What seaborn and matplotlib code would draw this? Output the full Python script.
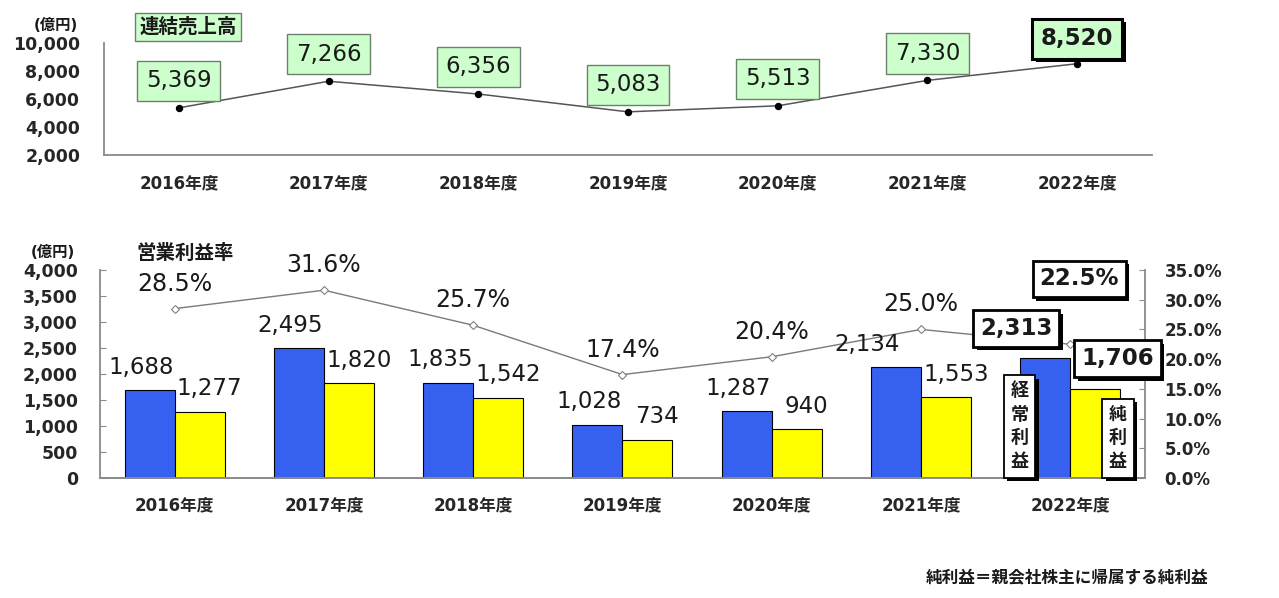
import numpy as np
import pandas as pd
import matplotlib
matplotlib.use('Agg')
import matplotlib.pyplot as plt
import matplotlib.patheffects as pe
import seaborn as sns

years = ['2016年度', '2017年度', '2018年度', '2019年度', '2020年度', '2021年度', '2022年度']
sales = [5369, 7266, 6356, 5083, 5513, 7330, 8520]
ordinary_profit = [1688, 2495, 1835, 1028, 1287, 2134, 2313]
net_profit = [1277, 1820, 1542, 734, 940, 1553, 1706]
op_margin = [28.5, 31.6, 25.7, 17.4, 20.4, 25.0, 22.5]
series_names = ['経常利益', '純利益']

BLUE = '#3560f0'
YELLOW = '#ffff00'
SPINE = '#8a8a8a'
GREEN = '#ccffcc'

sns.set_style('white')
plt.rcParams['font.family'] = ['DejaVu Sans', 'Noto Sans CJK JP']
plt.rcParams['text.color'] = '#1a1a1a'

shadow = [pe.SimplePatchShadow(offset=(2.5, -2.5), shadow_rgbFace='black', alpha=1.0), pe.Normal()]


def style_axis(ax, right=False):
    for s in ['top', 'right', 'left', 'bottom']:
        ax.spines[s].set_visible(False)
    ax.spines['bottom'].set_visible(True)
    ax.spines['right' if right else 'left'].set_visible(True)
    for s in ax.spines.values():
        s.set_color(SPINE)
        s.set_linewidth(1.3)
    ax.set_xlim(-0.5, len(years) - 0.5)
    ax.set_xticks(np.arange(-0.5, len(years), 1), minor=True)
    ax.tick_params(axis='x', which='major', length=0)
    ax.tick_params(axis='x', which='minor', direction='in', length=4, color=SPINE)
    ax.tick_params(axis='y', direction='in', length=4, color=SPINE)
    ax.set_xlabel('')
    ax.set_ylabel('')


fig = plt.figure(figsize=(12.79, 5.98), dpi=100)
ax_top = fig.add_axes([0.0813, 0.7408, 0.8194, 0.1873])
ax = fig.add_axes([0.0782, 0.2007, 0.8170, 0.3478])
ax2 = ax.twinx()

# ---- top: consolidated sales
sns.pointplot(x=years, y=sales, ax=ax_top, color='#555555', markers='o',
              linewidth=1.1, errorbar=None)
ln = ax_top.lines[0]
ln.set_markerfacecolor('black')
ln.set_markeredgecolor('black')
ln.set_markersize(4.5)
style_axis(ax_top)
ax_top.set_ylim(2000, 10000)
ax_top.set_yticks(range(2000, 10001, 2000))
ax_top.set_yticklabels([f'{v:,}' for v in range(2000, 10001, 2000)], fontsize=12.5, fontweight='bold')
ax_top.tick_params(axis='y', pad=17)
ax_top.set_xticks(range(len(years)))
ax_top.set_xticklabels(years, fontsize=12, fontweight='bold')
ax_top.tick_params(axis='x', which='major', pad=14)

for i, v in enumerate(sales):
    last = i == len(sales) - 1
    t = ax_top.annotate(f'{v:,}', xy=(i, v), xytext=(0, 19.5 if not last else 18),
                        textcoords='offset points', ha='center', va='center',
                        fontsize=16.5, fontweight='bold' if last else 'normal',
                        bbox=dict(boxstyle='square,pad=0.38', fc=GREEN,
                                  ec='black' if last else '#6d806d',
                                  lw=2.2 if last else 1.0))
    if last:
        t.get_bbox_patch().set_path_effects(shadow)

fig.text(56 / 1279, 1 - 25 / 598, '(億円)', ha='center', va='center', fontsize=11, fontweight='bold')
fig.text(188 / 1279, 1 - 27 / 598, '連結売上高', ha='center', va='center', fontsize=14,
         fontweight='bold', bbox=dict(boxstyle='square,pad=0.2', fc=GREEN, ec='#6d806d', lw=1.0))

# ---- bottom: profits + operating margin
df = pd.DataFrame({
    '年度': years * 2,
    '利益': ordinary_profit + net_profit,
    '区分': [series_names[0]] * len(years) + [series_names[1]] * len(years),
})
sns.barplot(data=df, x='年度', y='利益', hue='区分', palette=[BLUE, YELLOW],
            width=0.67, edgecolor='black', linewidth=0.8, saturation=1,
            legend=False, ax=ax)

sns.pointplot(x=years, y=op_margin, ax=ax2, color='#7a7a7a', markers='D',
              linewidth=1.0, errorbar=None)
ln2 = ax2.lines[0]
ln2.set_markerfacecolor('white')
ln2.set_markeredgecolor('#7a7a7a')
ln2.set_markersize(4)

style_axis(ax)
style_axis(ax2, right=True)
ax.set_ylim(0, 4000)
ax.set_yticks(range(0, 4001, 500))
ax.set_yticklabels([f'{v:,}' for v in range(0, 4001, 500)], fontsize=12.5, fontweight='bold')
ax.tick_params(axis='y', pad=16)
ax.set_xticks(range(len(years)))
ax.set_xticklabels(years, fontsize=12, fontweight='bold')
ax.tick_params(axis='x', which='major', pad=13)
ax2.set_ylim(0, 35)
ax2.set_yticks(range(0, 36, 5))
ax2.set_yticklabels([f'{v:.1f}%' for v in range(0, 36, 5)], fontsize=12, fontweight='bold')
ax2.tick_params(axis='y', pad=14)
ax2.xaxis.set_visible(False)

# bar value labels
for k, cont in enumerate(ax.containers):
    for i, bar in enumerate(cont):
        x = bar.get_x() + bar.get_width() / 2
        h = bar.get_height()
        if i == len(years) - 1:
            off = (-21, 21) if k == 0 else (16, 22)
            t = ax2.annotate(f'{h:,.0f}', xy=(x, h), xycoords=ax.transData, xytext=off,
                             textcoords='offset points', ha='center', va='center',
                             fontsize=16.5, fontweight='bold', zorder=6,
                             bbox=dict(boxstyle='square,pad=0.3', fc='white', ec='black', lw=2.0))
            t.get_bbox_patch().set_path_effects(shadow)
        else:
            dx = -6 if k == 0 else 7
            if k == 0 and i == 5:
                dx = -21
            ax2.annotate(f'{h:,.0f}', xy=(x, h), xycoords=ax.transData, xytext=(dx, 16.5),
                         textcoords='offset points', ha='center', va='center',
                         fontsize=16.5, zorder=5)

# margin labels
for i, v in enumerate(op_margin):
    if i == len(op_margin) - 1:
        t = ax2.annotate(f'{v:.1f}%', xy=(i, v), xytext=(6.5, 47), textcoords='offset points',
                         ha='center', va='center', fontsize=16.5, fontweight='bold', zorder=6,
                         bbox=dict(boxstyle='square,pad=0.3', fc='white', ec='black', lw=2.0))
        t.get_bbox_patch().set_path_effects(shadow)
    else:
        ax2.annotate(f'{v:.1f}%', xy=(i, v), xytext=(0, 18), textcoords='offset points',
                     ha='center', va='center', fontsize=17, zorder=5)

# vertical series tags on 2022
for name, dx in zip(series_names, [-0.34, 0.32]):
    t = ax2.annotate('\n'.join(name), xy=(len(years) - 1 + dx, 0), xycoords=ax.transData,
                     xytext=(0, 5), textcoords='offset points', ha='center', va='bottom',
                     fontsize=13, fontweight='bold', linespacing=1.4, zorder=6,
                     bbox=dict(boxstyle='square,pad=0.38', fc='white', ec='black', lw=1.3))
    t.get_bbox_patch().set_path_effects(shadow)

fig.text(53 / 1279, 1 - 252 / 598, '(億円)', ha='center', va='center', fontsize=11, fontweight='bold')
fig.text(185 / 1279, 1 - 253 / 598, '営業利益率', ha='center', va='center', fontsize=14, fontweight='bold')
fig.text(1208 / 1279, 1 - 578 / 598, '純利益＝親会社株主に帰属する純利益', ha='right', va='center',
         fontsize=12, fontweight='bold')

fig.savefig('out.png', dpi=100)
